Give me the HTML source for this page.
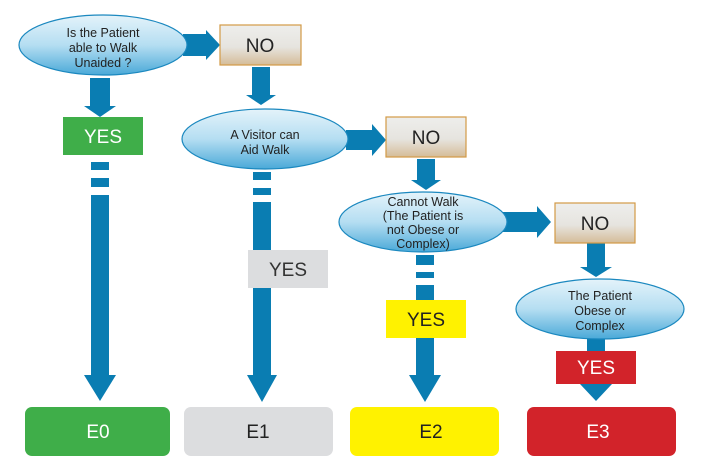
<!DOCTYPE html>
<html><head><style>body{margin:0;background:#fff}svg{display:block}text{font-family:"Liberation Sans",sans-serif}</style></head><body>
<svg width="711" height="462" viewBox="0 0 711 462">
<defs>
<linearGradient id="el" x1="0" y1="0" x2="0" y2="1"><stop offset="0" stop-color="#e4f3fa"/><stop offset="0.5" stop-color="#b5def2"/><stop offset="1" stop-color="#4aa9d8"/></linearGradient>
<linearGradient id="no" x1="0" y1="0" x2="0" y2="1"><stop offset="0" stop-color="#eeeeec"/><stop offset="0.55" stop-color="#e6e4df"/><stop offset="1" stop-color="#d5bc98"/></linearGradient>
</defs>
<g fill="#0a7db2">
<!-- col0 -->
<polygon points="90,78 110,78 110,106 116,106 100,117 84,106 90,106"/>
<rect x="91" y="162" width="18" height="8"/><rect x="91" y="178" width="18" height="9"/>
<polygon points="91,195 109,195 109,375 116,375 100,401 84,375 91,375"/>
<!-- right arrows -->
<polygon points="183,34 206,34 206,30 220,45 206,60 206,56 183,56"/>
<polygon points="346,130 372,130 372,124 386,140 372,156 372,150 346,150"/>
<polygon points="503,212 537,212 537,206 551,222 537,238 537,232 503,232"/>
<!-- downs -->
<polygon points="252,67 270,67 270,95 276,95 261,105 246,95 252,95"/>
<polygon points="417,159 435,159 435,180 441,180 426,190 411,180 417,180"/>
<polygon points="587,243 605,243 605,267 612,267 596,277 580,267 587,267"/>
<!-- col1 -->
<rect x="253" y="172" width="18" height="8"/><rect x="253" y="188" width="18" height="7"/>
<polygon points="253,202 271,202 271,375 277,375 262,402 247,375 253,375"/>
<!-- col2 -->
<rect x="416" y="255" width="18" height="10"/><rect x="416" y="272" width="18" height="6"/>
<polygon points="416,285 434,285 434,375 441,375 425,402 409,375 416,375"/>
<!-- col3 -->
<rect x="587" y="338" width="18" height="14"/>
<polygon points="580,384 612,384 596,401"/>
</g>
<!-- ellipses -->
<g fill="url(#el)" stroke="#1b88bf" stroke-width="1.2">
<ellipse cx="103" cy="45" rx="84" ry="30"/>
<ellipse cx="265" cy="139" rx="83" ry="30"/>
<ellipse cx="423" cy="222" rx="84" ry="30"/>
<ellipse cx="600" cy="309" rx="84" ry="30"/>
</g>
<g fill="#222" font-size="12.5" text-anchor="middle">
<text x="103" y="37">Is the Patient</text><text x="103" y="52">able to Walk</text><text x="103" y="67">Unaided ?</text>
<text x="265" y="139">A Visitor can</text><text x="265" y="154">Aid Walk</text>
<text x="423" y="206">Cannot Walk</text><text x="423" y="220">(The Patient is</text><text x="423" y="234">not Obese or</text><text x="423" y="248">Complex)</text>
<text x="600" y="300">The Patient</text><text x="600" y="315">Obese or</text><text x="600" y="330">Complex</text>
</g>
<!-- NO boxes -->
<g fill="url(#no)" stroke="#d39a45" stroke-width="1.2">
<rect x="220" y="25" width="81" height="40"/>
<rect x="386" y="117" width="80" height="40"/>
<rect x="555" y="203" width="80" height="40"/>
</g>
<g fill="#222" font-size="19" text-anchor="middle">
<text x="260" y="52">NO</text><text x="426" y="144">NO</text><text x="595" y="230">NO</text>
</g>
<!-- YES boxes -->
<rect x="63" y="117" width="80" height="38" fill="#3fae49"/>
<rect x="248" y="250" width="80" height="38" fill="#dcdddf"/>
<rect x="386" y="300" width="80" height="38" fill="#fff200"/>
<rect x="556" y="351" width="80" height="33" fill="#d2232a"/>
<g font-size="19" text-anchor="middle">
<text x="103" y="143" fill="#fff">YES</text>
<text x="288" y="276" fill="#333">YES</text>
<text x="426" y="326" fill="#222">YES</text>
<text x="596" y="374" fill="#fff">YES</text>
</g>
<!-- E boxes -->
<rect x="25" y="407" width="145" height="49" rx="7" fill="#3fae49"/>
<rect x="184" y="407" width="149" height="49" rx="7" fill="#dcdddf"/>
<rect x="350" y="407" width="149" height="49" rx="7" fill="#fff200"/>
<rect x="527" y="407" width="149" height="49" rx="7" fill="#d2232a"/>
<g font-size="19" text-anchor="middle">
<text x="98" y="438" fill="#fff">E0</text>
<text x="258" y="438" fill="#222">E1</text>
<text x="431" y="438" fill="#222">E2</text>
<text x="598" y="438" fill="#fff">E3</text>
</g>
</svg>
</body></html>
